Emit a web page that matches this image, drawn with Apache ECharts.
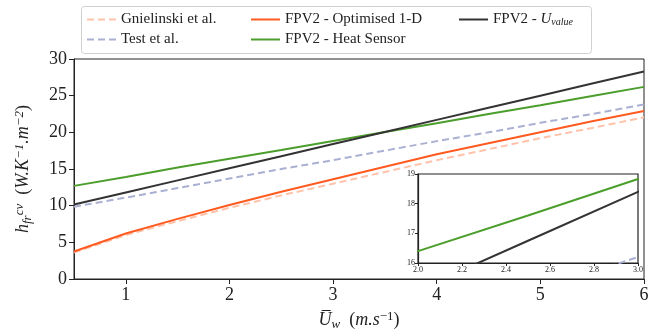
<!DOCTYPE html>
<html>
<head>
<meta charset="utf-8">
<script src="https://cdn.jsdelivr.net/npm/echarts@6/dist/echarts.min.js"></script>
<style>
html,body{margin:0;padding:0;background:#fff;}
#c{width:663px;height:336px;}
</style>
</head>
<body>
<div id="c"></div>
<script>
const windSpeed = [0.5, 1, 1.5, 2, 2.5, 3, 3.5, 4, 4.5, 5, 5.5, 6];
const gnielinski = [3.6, 6.0, 7.9, 9.7, 11.4, 13.0, 14.6, 16.2, 17.7, 19.2, 20.6, 22.05];
const testEtAl = [9.85, 11.1, 12.4, 13.7, 15.0, 16.2, 17.5, 18.8, 20.0, 21.3, 22.5, 23.8];
const optimised1D = [3.75, 6.2, 8.2, 10.1, 11.9, 13.6, 15.3, 17.0, 18.5, 20.0, 21.5, 22.9];
const heatSensor = [12.7, 13.9, 15.2, 16.4, 17.6, 18.83, 20.05, 21.25, 22.5, 23.7, 24.95, 26.2];
const uValue = [10.15, 11.8, 13.45, 15.1, 16.75, 18.4, 20.05, 21.7, 23.35, 25.0, 26.65, 28.3];
const xTicks = [1, 2, 3, 4, 5, 6];
const names = ['Gnielinski et al.', 'Test et al.', 'FPV2 - Optimised 1-D', 'FPV2 - Heat Sensor', 'FPV2 - Uvalue'];

const FONT = '"Liberation Serif", "DejaVu Serif", serif';
const pairs = arr => windSpeed.map((x, i) => [x, arr[i]]);
const defs = [
  {name: names[0], data: gnielinski, color: '#ffc2aa', dashed: true},
  {name: names[1], data: testEtAl, color: '#aab0d2', dashed: true},
  {name: names[2], data: optimised1D, color: '#ff5a1f', dashed: false},
  {name: names[3], data: heatSensor, color: '#4c9e2c', dashed: false},
  {name: names[4], data: uValue, color: '#333333', dashed: false}
];

const series = [];
defs.forEach(d => {
  series.push({
    name: d.name, type: 'line', xAxisIndex: 0, yAxisIndex: 0, data: pairs(d.data),
    showSymbol: false, smooth: false, z: 2,
    lineStyle: {color: d.color, width: 2, type: d.dashed ? [7, 4] : 'solid'},
    itemStyle: {color: d.color}
  });
  series.push({
    name: d.name, type: 'line', xAxisIndex: 1, yAxisIndex: 1, data: pairs(d.data),
    showSymbol: false, smooth: false, z: 12, clip: true,
    lineStyle: {color: d.color, width: 2, type: d.dashed ? [7, 4] : 'solid'},
    itemStyle: {color: d.color}
  });
});

const legendText = {
  fontFamily: FONT, fontSize: 15, color: '#222',
  rich: {
    n: {fontFamily: FONT, fontSize: 15, color: '#222'},
    i: {fontFamily: FONT, fontSize: 15, fontStyle: 'italic', color: '#222'},
    s: {fontFamily: FONT, fontSize: 10, fontStyle: 'italic', color: '#222', verticalAlign: 'bottom', padding: [6, 0, 0, 0]}
  }
};
const legendFmt = n => n === 'FPV2 - Uvalue' ? '{n|FPV2 - }{i|U}{s|value}' : n;
const mkLegend = (left, data) => ({
  orient: 'vertical', left: left, top: 12, padding: 0, itemWidth: 29, itemHeight: 14, itemGap: 5,
  data: data, formatter: legendFmt, textStyle: legendText,
  itemStyle: {opacity: 0}
});

const axisLineStyle = {color: '#222', width: 1};
const option = {
  animation: false,
  backgroundColor: '#fff',
  legend: [
    mkLegend(86, [names[0], names[1]]),
    mkLegend(250, [names[2], names[3]]),
    mkLegend(458, [names[4]])
  ],
  grid: [
    {left: 74, right: 19, top: 59, bottom: 56, show: true, borderColor: '#222', borderWidth: 1, backgroundColor: 'transparent'},
    {left: 418, top: 174, width: 220, height: 89, show: true, borderColor: '#222', borderWidth: 1.2, backgroundColor: '#fff', z: 10}
  ],
  xAxis: [
    {
      type: 'value', gridIndex: 0, min: 0.5, max: 6,
      axisLine: {show: true, lineStyle: axisLineStyle, onZero: false},
      axisTick: {show: true, length: 5, lineStyle: axisLineStyle, customValues: xTicks},
      axisLabel: {customValues: xTicks, fontFamily: FONT, fontSize: 18, color: '#222', margin: 7},
      splitLine: {show: false},
      name: '{o|U\u0305}{w|w}  {p|(}{i|m.s}{sup|−1}{p|)}',
      nameLocation: 'middle', nameGap: 31,
      nameTextStyle: {
        fontFamily: FONT, fontSize: 18, color: '#222',
        rich: {
          o: {fontFamily: FONT, fontSize: 18, fontStyle: 'italic', color: '#222'},
          w: {fontFamily: FONT, fontSize: 13, fontStyle: 'italic', color: '#222', verticalAlign: 'bottom', padding: [8, 0, 0, 0]},
          p: {fontFamily: FONT, fontSize: 18, color: '#222'},
          i: {fontFamily: FONT, fontSize: 18, fontStyle: 'italic', color: '#222'},
          sup: {fontFamily: FONT, fontSize: 13, color: '#222', verticalAlign: 'top', padding: [0, 0, 8, 0]}
        }
      }
    },
    {
      type: 'value', gridIndex: 1, min: 2, max: 3, interval: 0.2, z: 12,
      axisLine: {show: true, lineStyle: {color: '#222', width: 1.2}, onZero: false},
      axisTick: {show: true, length: 3, lineStyle: {color: '#222'}},
      axisLabel: {fontFamily: FONT, fontSize: 8, color: '#222', margin: 3, formatter: v => v.toFixed(1)},
      splitLine: {show: false}
    }
  ],
  yAxis: [
    {
      type: 'value', gridIndex: 0, min: 0, max: 30, interval: 5,
      axisLine: {show: true, lineStyle: axisLineStyle, onZero: false},
      axisTick: {show: true, length: 5, lineStyle: axisLineStyle},
      axisLabel: {fontFamily: FONT, fontSize: 18, color: '#222', margin: 7},
      splitLine: {show: false},
      name: '{h|h}{sb|fr}{sp|cv}  {p|(}{i|W.K}{sp|−1}{i|.m}{sp|−2}{p|)}',
      nameLocation: 'middle', nameGap: 40, nameRotate: 90,
      nameTextStyle: {
        fontFamily: FONT, fontSize: 18, color: '#222',
        rich: {
          h: {fontFamily: FONT, fontSize: 18, fontStyle: 'italic', color: '#222'},
          sb: {fontFamily: FONT, fontSize: 13, fontStyle: 'italic', color: '#222', verticalAlign: 'bottom', padding: [8, 0, 0, 0]},
          sp: {fontFamily: FONT, fontSize: 13, fontStyle: 'italic', color: '#222', verticalAlign: 'top', padding: [0, 0, 8, 0]},
          p: {fontFamily: FONT, fontSize: 18, color: '#222'},
          i: {fontFamily: FONT, fontSize: 18, fontStyle: 'italic', color: '#222'}
        }
      }
    },
    {
      type: 'value', gridIndex: 1, min: 16, max: 19, interval: 1, z: 12,
      axisLine: {show: true, lineStyle: {color: '#222', width: 1.2}, onZero: false},
      axisTick: {show: true, length: 3, lineStyle: {color: '#222'}},
      axisLabel: {fontFamily: FONT, fontSize: 8, color: '#222', margin: 3},
      splitLine: {show: false}
    }
  ],
  graphic: [
    {type: 'rect', left: 81, top: 6, shape: {width: 510, height: 47, r: 3},
     style: {fill: '#fff', stroke: '#d0d0d0', lineWidth: 1}, z: -1, silent: true}
  ],
  series: series
};

const chart = echarts.init(document.getElementById('c'), null, {renderer: 'canvas'});
chart.setOption(option);
</script>
</body>
</html>
